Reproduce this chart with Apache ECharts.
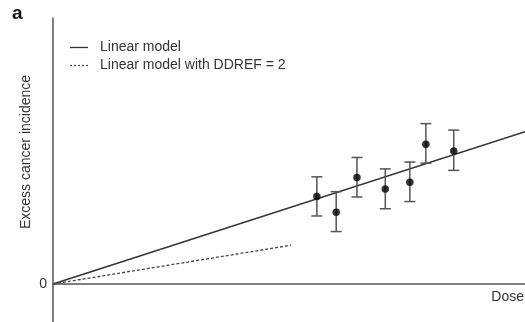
<!DOCTYPE html>
<html><head><meta charset="utf-8">
<script src="https://cdn.jsdelivr.net/npm/echarts@6/dist/echarts.min.js"></script>
<style>html,body{margin:0;padding:0;background:#fff}#c{width:525px;height:322px}</style>
</head><body><div id="c"></div>
<script>
// Data (arbitrary units)
var linearModel = [[0, 0], [10, 4.01]];
var ddrefModel = [[0, 0], [5.04, 1.02]];
var doseX = [5.59, 6.00, 6.44, 7.04, 7.56, 7.90, 8.49];
var incidence = [2.30, 1.89, 2.80, 2.50, 2.68, 3.68, 3.50];
var errLow = [1.79, 1.38, 2.29, 1.98, 2.17, 3.18, 2.99];
var errHigh = [2.82, 2.43, 3.33, 3.03, 3.21, 4.22, 4.05];
var legendNames = ['Linear model', 'Linear model with DDREF = 2'];

var FONT = '"Liberation Sans", Arial, sans-serif';
var pts = doseX.map(function (x, i) { return [x, incidence[i]]; });
var errs = doseX.map(function (x, i) { return [x, errLow[i], errHigh[i]]; });

var chart = echarts.init(document.getElementById('c'), null, {renderer: 'canvas'});
chart.setOption({
  animation: false,
  textStyle: {fontFamily: FONT},
  grid: {left: 53, right: 0, top: 18, bottom: 0, containLabel: false},
  xAxis: {
    type: 'value', min: 0, max: 10,
    axisLine: {show: true, onZero: true, lineStyle: {color: '#555', width: 1.5}},
    axisTick: {show: false}, axisLabel: {show: false}, splitLine: {show: false}
  },
  yAxis: {
    type: 'value', min: -1, max: 7, interval: 1,
    axisLine: {show: true, onZero: false, lineStyle: {color: '#555', width: 1.5}},
    axisTick: {show: false}, splitLine: {show: false},
    axisLabel: {fontSize: 14, color: '#333', fontFamily: FONT, margin: 6,
      formatter: function (v) { return v === 0 ? '0' : ''; }}
  },
  graphic: [
    {type: 'text', left: 12, top: 4, style: {text: 'a', font: 'bold 19px ' + FONT, fill: '#111'}},
    {type: 'text', x: 26, y: 152, rotation: Math.PI / 2,
      style: {text: 'Excess cancer incidence', font: '14px ' + FONT, fill: '#333', align: 'center', verticalAlign: 'middle'}},
    {type: 'text', right: 1, top: 290, style: {text: 'Dose', font: '14px ' + FONT, fill: '#333'}},
    {type: 'line', shape: {x1: 70, y1: 47.5, x2: 88, y2: 47.5}, style: {stroke: '#333', lineWidth: 1.3}},
    {type: 'text', x: 100, y: 47.5, style: {text: legendNames[0], font: '14px ' + FONT, fill: '#333', verticalAlign: 'middle'}},
    {type: 'line', shape: {x1: 70, y1: 65.5, x2: 88, y2: 65.5}, style: {stroke: '#444', lineWidth: 1.2, lineDash: [2, 2]}},
    {type: 'text', x: 100, y: 65.5, style: {text: legendNames[1], font: '14px ' + FONT, fill: '#333', verticalAlign: 'middle'}}
  ],
  series: [
    {name: legendNames[0], type: 'line', data: linearModel, symbol: 'none',
      lineStyle: {color: '#333', width: 1.5}, z: 3},
    {name: legendNames[1], type: 'line', data: ddrefModel, symbol: 'none',
      lineStyle: {color: '#444', width: 1.3, type: [3, 2]}, z: 3},
    {type: 'custom', data: errs, z: 4,
      renderItem: function (params, api) {
        var x = api.value(0);
        var lo = api.coord([x, api.value(1)]);
        var hi = api.coord([x, api.value(2)]);
        var w = 5.5;
        var st = {stroke: '#555', lineWidth: 1.5};
        return {type: 'group', children: [
          {type: 'line', shape: {x1: lo[0], y1: lo[1], x2: hi[0], y2: hi[1]}, style: st},
          {type: 'line', shape: {x1: lo[0] - w, y1: lo[1], x2: lo[0] + w, y2: lo[1]}, style: st},
          {type: 'line', shape: {x1: hi[0] - w, y1: hi[1], x2: hi[0] + w, y2: hi[1]}, style: st}
        ]};
      }},
    {type: 'scatter', data: pts, symbol: 'circle', symbolSize: 7.5,
      itemStyle: {color: '#000'}, z: 5}
  ]
});
</script></body></html>
